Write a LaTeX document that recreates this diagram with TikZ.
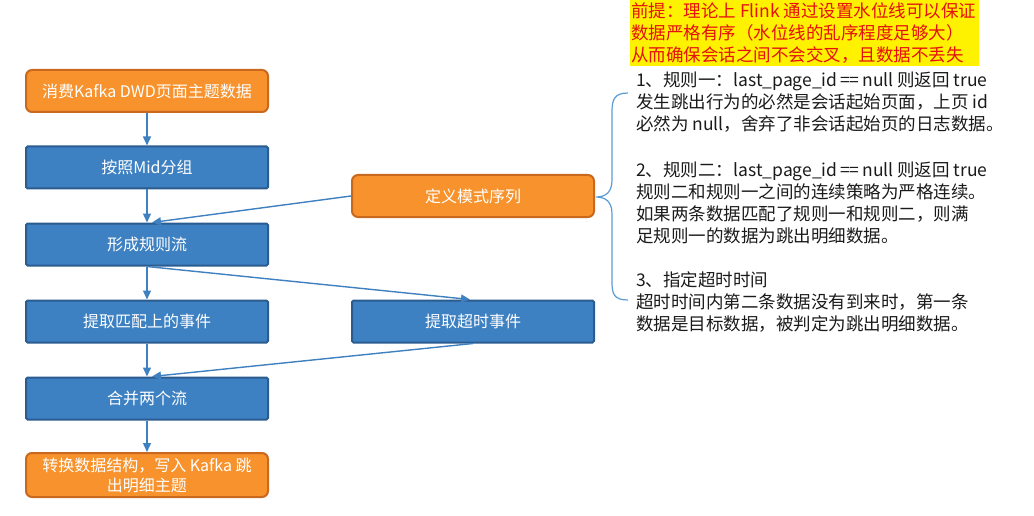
\documentclass[tikz,border=0pt]{standalone}
\usepackage{fontspec}
\newfontfamily\cjk{Noto Sans CJK SC}
\usetikzlibrary{arrows.meta}
\definecolor{orfill}{HTML}{F7922C}
\definecolor{ordraw}{HTML}{C9691F}
\definecolor{blfill}{HTML}{3D81C2}
\definecolor{bldraw}{HTML}{2B5C8F}
\definecolor{arrcol}{HTML}{3F80C0}
\definecolor{bracecol}{HTML}{5B9BD5}
\definecolor{redtxt}{HTML}{E5100F}
\definecolor{txt}{HTML}{1A1A1A}
\tikzset{
  basebox/.style={line width=2pt, minimum width=242pt, minimum height=42pt,
    text=white, font=\cjk\fontsize{16}{20}\selectfont, align=center, inner sep=2pt},
  orangebox/.style={basebox, draw=ordraw, fill=orfill, rounded corners=6pt},
  bluebox/.style={basebox, draw=bldraw, fill=blfill, rounded corners=1.5pt},
  conn/.style={draw=arrcol, line width=1.4pt, -{Triangle[length=9pt,width=8pt]}},
  redline/.style={anchor=base west, inner sep=0pt, text=redtxt, font=\cjk\fontsize{17.5}{21}\selectfont},
  noteline/.style={anchor=base west, inner sep=0pt, text=txt, font=\cjk\fontsize{17.5}{21}\selectfont},
}
\newcommand{\dbleq}{=\kern-0.5pt=}
\begin{document}
\begin{tikzpicture}[x=1pt,y=-1pt]
\useasboundingbox (0,0) rectangle (1034,516);
% boxes
\node[orangebox] (b1) at (147,91) {消费Kafka DWD页面主题数据};
\node[bluebox] (b2) at (147,167.5) {按照Mid分组};
\node[bluebox] (b3) at (147,244.5) {形成规则流};
\node[bluebox] (b4) at (147,321.5) {提取匹配上的事件};
\node[bluebox] (b5) at (473,321.5) {提取超时事件};
\node[bluebox] (b6) at (147,398.5) {合并两个流};
\node[orangebox, minimum height=44pt] (b7) at (147,475) {转换数据结构，写入 Kafka 跳\\出明细主题};
\node[orangebox] (b8) at (473,196) {定义模式序列};
% connectors
\draw[conn] (b1) -- (b2);
\draw[conn] (b2) -- (b3);
\draw[conn] (b8.west) -- ([xshift=5pt]b3.north);
\draw[conn] (b3.south) -- ([xshift=-3pt]b5.north);
\draw[conn] (b3) -- (b4);
\draw[conn] (b4) -- (b6);
\draw[conn] (b5.south) -- ([xshift=5pt]b6.north);
\draw[conn] (b6) -- (b7);
% brace
\draw[bracecol, line width=1.2pt] (628,93) .. controls (614,93) and (612,100) .. (612,112)
  -- (612,180) .. controls (612,192) and (606,197) .. (596,197)
  .. controls (606,197) and (612,202) .. (612,214)
  -- (612,282) .. controls (612,294) and (614,300) .. (628,300);
% highlighted premise
\fill[yellow] (630,0) rectangle (979,66);
\node[redline] (r1) at (631,18) {前提：理论上 Flink 通过设置水位线可以保证};
\node[redline] (r2) at (631,40) {数据严格有序（水位线的乱序程度足够大）};
\node[redline] (r3) at (631,62) {从而确保会话之间不会交叉，且数据不丢失};
% notes
\node[noteline] (n1) at (636,87) {1、规则一：last\_page\_id\,\dbleq\,null 则返回 true};
\node[noteline] (n2) at (636,109) {发生跳出行为的必然是会话起始页面，上页 id};
\node[noteline] (n3) at (636,131) {必然为 null，舍弃了非会话起始页的日志数据。};
\node[noteline] (n4) at (636,176) {2、规则二：last\_page\_id\,\dbleq\,null 则返回 true};
\node[noteline] (n5) at (636,198) {规则二和规则一之间的连续策略为严格连续。};
\node[noteline] (n6) at (636,220) {如果两条数据匹配了规则一和规则二，则满};
\node[noteline] (n7) at (636,242) {足规则一的数据为跳出明细数据。};
\node[noteline] (n8) at (636,286) {3、指定超时时间};
\node[noteline] (n9) at (636,308) {超时时间内第二条数据没有到来时，第一条};
\node[noteline] (n10) at (636,330) {数据是目标数据，被判定为跳出明细数据。};
\end{tikzpicture}
\end{document}
